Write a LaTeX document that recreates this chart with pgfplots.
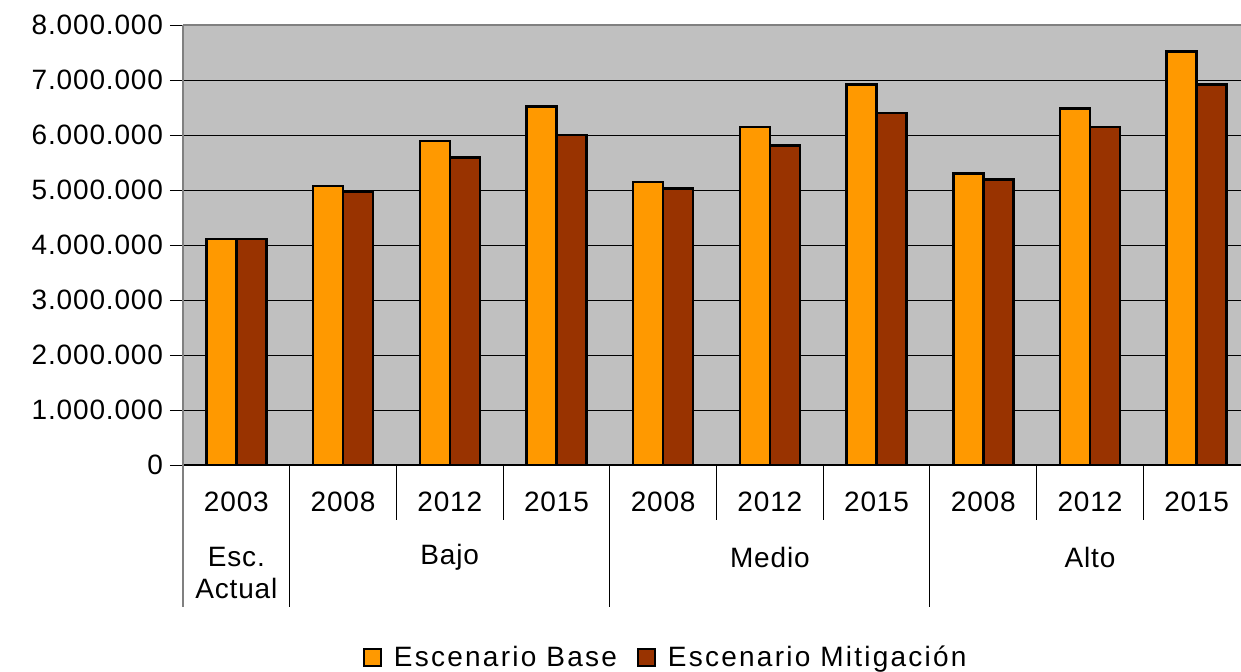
\documentclass[border=0pt]{standalone}
\usepackage{fontspec}
\setmainfont{Liberation Sans}[LetterSpace=3]
\newfontfamily\legendfont{Liberation Sans}[LetterSpace=8]
\usepackage{pgfplots}
\pgfplotsset{compat=1.18}
\definecolor{base}{HTML}{FF9900}
\definecolor{mitig}{HTML}{993300}
\definecolor{plotbg}{HTML}{C0C0C0}

\begin{document}
\begin{tikzpicture}
\useasboundingbox (-91.5bp,-103.5bp) rectangle (529bp,232.5bp);
\begin{axis}[
  at={(0,0)}, anchor=south west,
  width=533.5bp, height=220bp, scale only axis,
  font=\fontsize{14bp}{16bp}\selectfont,
  xmin=-0.5, xmax=9.5, ymin=0, ymax=8000000,
  ytick={0,1000000,...,8000000},
  scaled y ticks=false,
  yticklabel style={/pgf/number format/.cd, fixed, 1000 sep={.}, assume math mode=true},
  ybar=0pt, bar width=15bp,
  axis background/.style={fill=plotbg},
  axis x line*=bottom, axis y line*=left,
  x axis line style={black, line width=0.75bp, -},
  y axis line style={gray, line width=1bp, -},
  ymajorgrids, grid style={black, line width=0.5bp},
  ytick align=outside, ytick style={black, line width=0.5bp},
  major tick length=6.5bp,
  xtick={0,...,9},
  xticklabels={2003,2008,2012,2015,2008,2012,2015,2008,2012,2015},
  xtick style={draw=none},
  xticklabel style={anchor=center, yshift=-12bp},
  clip=false,
  legend style={at={(0.4534,-0.4386)}, anchor=center, draw=none, fill=none,
    legend columns=2, font=\legendfont\fontsize{14bp}{16bp}\selectfont,
    /tikz/every odd column/.append style={column sep=4bp},
    /tikz/every even column/.append style={column sep=8bp}},
  legend image code/.code={\draw[#1, draw=black, line width=1bp] (0bp,-4.25bp) rectangle (8.5bp,4.25bp);},
]
% Escenario Base
\addplot[fill=base, draw=black, line width=1.25bp] coordinates {
  (0,4110000) (1,5070000) (2,5890000) (3,6520000)
  (4,5150000) (5,6150000) (6,6920000)
  (7,5300000) (8,6480000) (9,7520000) };
\addlegendentry{Escenario Base}
% Escenario Mitigación
\addplot[fill=mitig, draw=black, line width=1.25bp] coordinates {
  (0,4110000) (1,4970000) (2,5590000) (3,6000000)
  (4,5030000) (5,5810000) (6,6400000)
  (7,5190000) (8,6150000) (9,6920000) };
\addlegendentry{Escenario Mitigación}

% top border of plot area
\draw[gray, line width=1bp] (axis cs:-0.5,8000000) -- (axis cs:9.5,8000000);
% category separators
\pgfplotsinvokeforeach{1.5,2.5,4.5,5.5,7.5,8.5}{
  \draw[black, line width=0.5bp] (axis cs:#1,0) -- ++(0bp,-27.5bp);}
\pgfplotsinvokeforeach{0.5,3.5,6.5}{
  \draw[black, line width=0.5bp] (axis cs:#1,0) -- ++(0bp,-71bp);}
\draw[gray, line width=1bp] (axis cs:-0.5,0) -- ++(0bp,-71bp);
% group labels
\node at (axis cs:0,0) [yshift=-46bp] {Esc.};
\node at (axis cs:0,0) [yshift=-61.5bp] {Actual};
\node at (axis cs:2,0) [yshift=-46bp] {Bajo};
\node at (axis cs:5,0) [yshift=-46bp] {Medio};
\node at (axis cs:8,0) [yshift=-46bp] {Alto};
\end{axis}
\end{tikzpicture}
\end{document}
